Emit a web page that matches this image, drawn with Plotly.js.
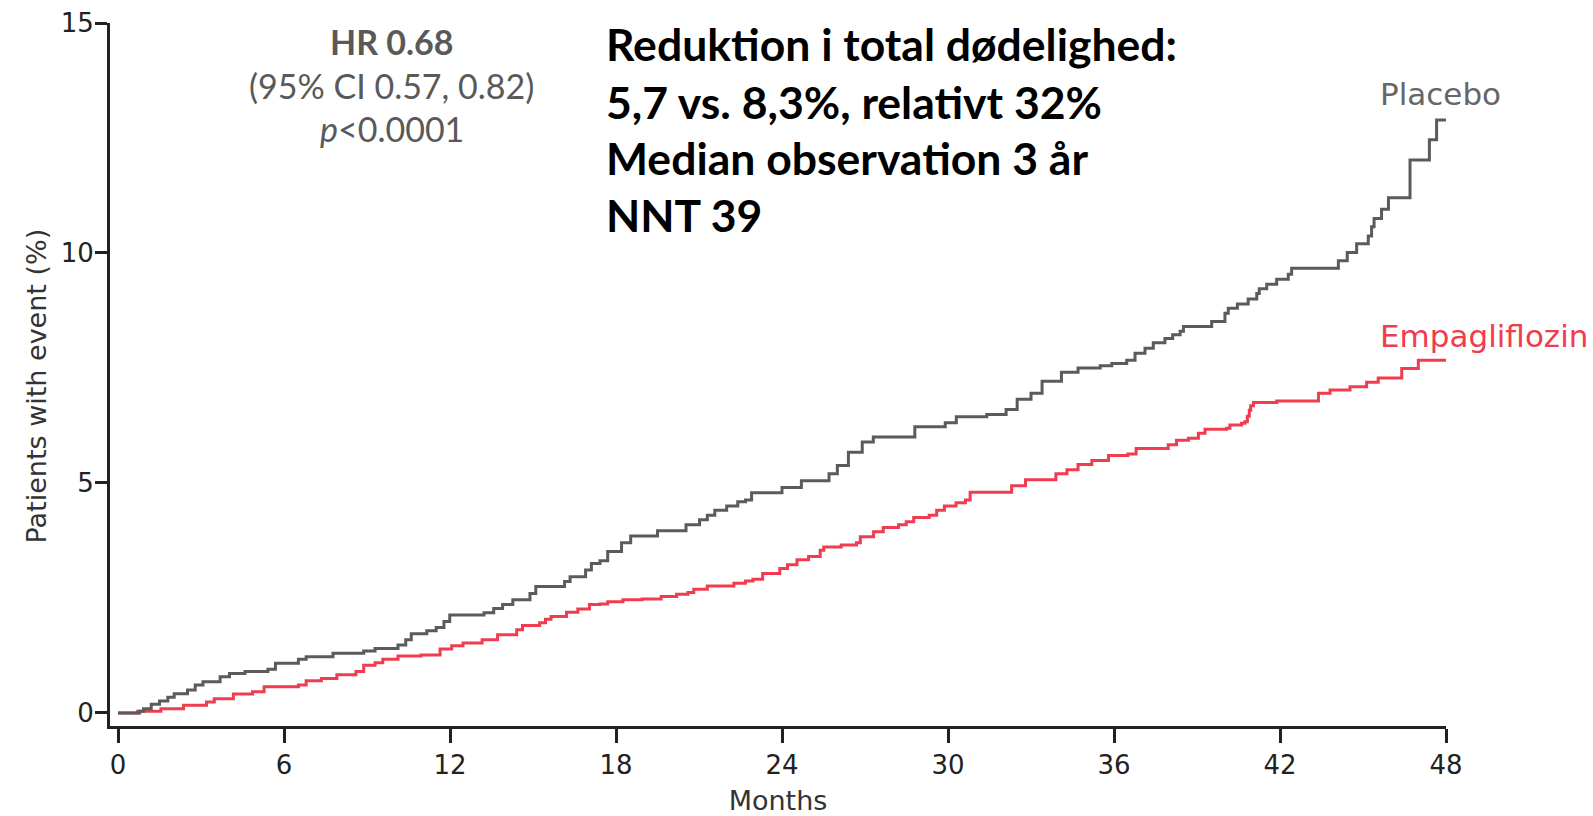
<!DOCTYPE html>
<html>
<head>
<meta charset="utf-8">
<script src="https://cdn.plot.ly/plotly-3.0.1.min.js"></script>
<style>
html,body{margin:0;padding:0;background:#fff;}
#chart{width:1593px;height:816px;}
</style>
</head>
<body>
<div id="chart"></div>
<script>
// ---- Data ----
const placeboMonths = [0, 0.78, 0.92, 1.20, 1.5, 1.8, 2.03, 2.51, 2.79, 3.07, 3.69, 4.03, 4.59, 5.42, 5.69, 6.52, 6.80, 7.77, 8.88, 9.29, 10.12, 10.40, 10.60, 11.16, 11.50, 11.78, 11.99, 13.23, 13.58, 13.9, 14.27, 14.89, 15.10, 16.14, 16.34, 16.90, 17.11, 17.42, 17.70, 18.2, 18.53, 19.5, 20.53, 21.02, 21.3, 21.57, 22.0, 22.4, 22.68, 22.9, 24.0, 24.7, 25.7, 26.0, 26.4, 26.9, 27.3, 28.8, 29.9, 30.3, 31.4, 32.1, 32.5, 33.0, 33.4, 34.1, 34.7, 35.5, 35.92, 36.46, 36.76, 37.12, 37.42, 37.84, 38.12, 38.39, 38.51, 39.53, 40.01, 40.13, 40.46, 40.85, 41.16, 41.25, 41.52, 41.88, 42.30, 42.42, 44.11, 44.43, 44.77, 45.19, 45.31, 45.40, 45.67, 45.92, 46.70, 47.40, 47.66, 48.0];
const placeboPct = [0, 0.04, 0.09, 0.19, 0.26, 0.34, 0.42, 0.50, 0.61, 0.68, 0.79, 0.86, 0.90, 0.95, 1.08, 1.17, 1.22, 1.30, 1.35, 1.40, 1.48, 1.59, 1.72, 1.79, 1.86, 1.99, 2.13, 2.18, 2.27, 2.36, 2.46, 2.60, 2.75, 2.86, 2.96, 3.11, 3.25, 3.31, 3.51, 3.70, 3.85, 3.96, 4.09, 4.20, 4.30, 4.41, 4.50, 4.59, 4.63, 4.79, 4.90, 5.05, 5.20, 5.38, 5.67, 5.89, 6.00, 6.22, 6.31, 6.44, 6.49, 6.60, 6.82, 6.95, 7.21, 7.41, 7.50, 7.55, 7.60, 7.67, 7.82, 7.93, 8.05, 8.14, 8.22, 8.30, 8.40, 8.51, 8.69, 8.80, 8.89, 9.00, 9.12, 9.22, 9.32, 9.43, 9.54, 9.67, 9.83, 10.01, 10.20, 10.37, 10.57, 10.75, 10.95, 11.20, 12.02, 12.46, 12.89, 12.89];

const empaMonths = [0, 0.71, 1.55, 2.37, 3.2, 3.48, 4.17, 4.86, 5.28, 6.52, 6.80, 7.35, 7.91, 8.6, 8.88, 9.29, 9.57, 10.12, 10.95, 11.64, 12.06, 12.47, 13.16, 13.72, 14.41, 14.62, 15.24, 15.45, 15.65, 16.21, 16.62, 17.04, 17.42, 17.70, 18.25, 18.94, 19.63, 20.19, 20.6, 20.81, 21.3, 22.26, 22.68, 22.95, 23.3, 23.92, 24.2, 24.54, 24.96, 25.38, 25.51, 26.14, 26.69, 26.83, 27.31, 27.66, 28.21, 28.49, 28.76, 29.32, 29.59, 29.87, 30.29, 30.63, 30.8, 32.3, 32.8, 33.9, 34.3, 34.7, 35.2, 35.8, 36.5, 36.8, 37.96, 38.26, 38.69, 39.05, 39.29, 40.07, 40.19, 40.61, 40.73, 40.82, 40.89, 40.94, 41.04, 41.88, 43.39, 43.81, 44.53, 45.13, 45.55, 46.40, 47.0, 48.0];
const empaPct = [0, 0.04, 0.09, 0.17, 0.24, 0.31, 0.41, 0.46, 0.57, 0.61, 0.70, 0.75, 0.83, 0.90, 1.04, 1.09, 1.17, 1.24, 1.26, 1.39, 1.46, 1.52, 1.59, 1.70, 1.81, 1.90, 1.96, 2.04, 2.10, 2.19, 2.26, 2.36, 2.37, 2.42, 2.46, 2.48, 2.53, 2.58, 2.62, 2.69, 2.76, 2.82, 2.87, 2.91, 3.03, 3.14, 3.22, 3.33, 3.40, 3.54, 3.61, 3.65, 3.70, 3.83, 3.94, 4.03, 4.09, 4.16, 4.25, 4.30, 4.41, 4.50, 4.57, 4.63, 4.80, 4.94, 5.07, 5.20, 5.29, 5.40, 5.49, 5.60, 5.63, 5.75, 5.83, 5.93, 5.97, 6.08, 6.17, 6.19, 6.26, 6.30, 6.33, 6.45, 6.58, 6.68, 6.75, 6.78, 6.95, 7.02, 7.09, 7.19, 7.28, 7.49, 7.67, 7.67];

const xTicks = [0, 6, 12, 18, 24, 30, 36, 42, 48];
const yTicks = [0, 5, 10, 15];
const seriesNames = ['Placebo', 'Empagliflozin'];
const xTitle = 'Months';
const yTitle = 'Patients with event (%)';
const statLines = ['<b>HR 0.68</b>', '(95% CI 0.57, 0.82)', '<i>p</i><0.0001'];
const summaryLines = ['Reduktion i total dødelighed:', '5,7 vs. 8,3%, relativt 32%', 'Median observation 3 år', 'NNT 39'];

// ---- Styling ----
const GRAY = '#5b5b5b';
const RED = '#f03c4e';
const AX = '#222222';
const labelFont = 'DejaVu Sans, sans-serif';
const textFont = 'Lato, Open Sans, sans-serif';

const traces = [
  {x: empaMonths, y: empaPct, type: 'scatter', mode: 'lines', name: seriesNames[1],
   line: {shape: 'hv', color: RED, width: 3}, hoverinfo: 'x+y'},
  {x: placeboMonths, y: placeboPct, type: 'scatter', mode: 'lines', name: seriesNames[0],
   line: {shape: 'hv', color: GRAY, width: 3}, hoverinfo: 'x+y'}
];

const annotations = [];
// Curve labels (data coordinates)
annotations.push({x: 45.55, y: 13.45, xref: 'x', yref: 'y', text: seriesNames[0], showarrow: false,
  xanchor: 'left', yanchor: 'middle', font: {family: labelFont, size: 31, color: '#666666'}});
annotations.push({x: 45.55, y: 8.2, xref: 'x', yref: 'y', text: seriesNames[1], showarrow: false,
  xanchor: 'left', yanchor: 'middle', font: {family: labelFont, size: 31, color: RED}});
// HR block
const statY = [14.6, 13.65, 12.7];
statLines.forEach((t, i) => {
  annotations.push({x: 9.9, y: statY[i], xref: 'x', yref: 'y', text: t, showarrow: false,
    xanchor: 'center', yanchor: 'middle', font: {family: textFont, size: 34, color: '#595959'}});
});
// Summary block
const sumY = [14.55, 13.3, 12.07, 10.83];
summaryLines.forEach((t, i) => {
  annotations.push({x: 17.55, y: sumY[i], xref: 'x', yref: 'y', text: '<b>' + t + '</b>', showarrow: false,
    xanchor: 'left', yanchor: 'middle', font: {family: textFont, size: 44.5, color: '#000000'}});
});
// Y-axis title (placed to match the reference's vertical offset)
annotations.push({x: 0, y: 0.5, xref: 'paper', yref: 'paper', xshift: -74, yshift: -12,
  text: yTitle, textangle: -90, showarrow: false, xanchor: 'center', yanchor: 'middle',
  font: {family: labelFont, size: 27, color: '#333333'}});

const layout = {
  width: 1593, height: 816,
  margin: {l: 110, r: 147, t: 23, b: 90, pad: 0},
  paper_bgcolor: '#ffffff', plot_bgcolor: '#ffffff',
  showlegend: false,
  xaxis: {
    range: [-0.29, 48], tickvals: xTicks, ticktext: xTicks.map(String),
    showgrid: false, zeroline: false, showline: true, linecolor: AX, linewidth: 3,
    ticks: 'outside', ticklen: 14, tickwidth: 3, tickcolor: AX,
    tickfont: {family: labelFont, size: 26, color: AX},
    title: {text: xTitle, font: {family: labelFont, size: 27, color: '#333333'}, standoff: 15},
    fixedrange: true
  },
  yaxis: {
    range: [-0.283, 15], tickvals: yTicks, ticktext: yTicks.map(String),
    showgrid: false, zeroline: false, showline: true, linecolor: AX, linewidth: 3,
    ticks: 'outside', ticklen: 12, tickwidth: 3, tickcolor: AX,
    tickfont: {family: labelFont, size: 26, color: AX},
    ticklabelstandoff: -4,
    fixedrange: true
  },
  annotations: annotations
};

Plotly.newPlot('chart', traces, layout, {displayModeBar: false, staticPlot: true});
</script>
</body>
</html>
